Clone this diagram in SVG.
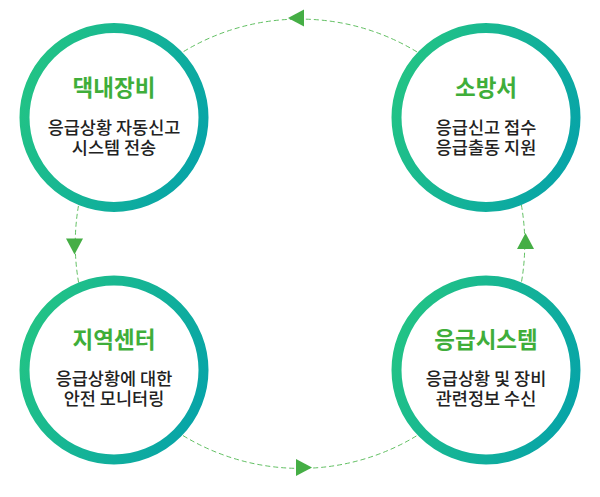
<svg xmlns="http://www.w3.org/2000/svg" width="600" height="497" viewBox="0 0 600 497">
<defs>
<linearGradient id="ring" x1="0" y1="0.3" x2="1" y2="0.7">
<stop offset="0" stop-color="#22c385"/>
<stop offset="1" stop-color="#07a4a8"/>
</linearGradient>
<path id="arrow" d="M8,0 L-8,-8.5 L-8,8.5 Z"/>
</defs>
<style>
.link{fill:none;stroke:#62c063;stroke-width:1;stroke-dasharray:5 3}
.head{fill:#45ae45}
.ring{fill:#fff;stroke:url(#ring);stroke-width:10}
.title{font-family:"Noto Sans CJK KR","Noto Sans",sans-serif;font-weight:700;font-size:22.5px;fill:#3fae3a;text-anchor:middle}
.body{font-family:"Noto Sans CJK KR","Noto Sans",sans-serif;font-weight:500;font-size:17.5px;fill:#222;text-anchor:middle}
</style>
<rect width="600" height="497" fill="#fff"/>
<g id="connectors">
<path class="link" d="M486,117.5 A225,225 0 0,0 114,117.5"/>
<path class="link" d="M114,117.5 A225,225 0 0,0 114,370"/>
<path class="link" d="M114,370 A225,225 0 0,0 486,370"/>
<path class="link" d="M486,370 A225,225 0 0,0 486,117.5"/>
<use href="#arrow" class="head" transform="translate(296,18) rotate(180)"/>
<use href="#arrow" class="head" transform="translate(74.5,246.5) rotate(90)"/>
<use href="#arrow" class="head" transform="translate(304,467.5)"/>
<use href="#arrow" class="head" transform="translate(525.5,241) rotate(-90)"/>
</g>
<g id="node-daeknae">
<circle class="ring" cx="114" cy="117.5" r="89.5"/>
<text class="title" x="114" y="96">댁내장비</text>
<text class="body" x="114" y="134">응급상황 자동신고</text>
<text class="body" x="114" y="154">시스템 전송</text>
</g>
<g id="node-sobangseo">
<circle class="ring" cx="486" cy="117.5" r="89.5"/>
<text class="title" x="486" y="96">소방서</text>
<text class="body" x="486" y="134">응급신고 접수</text>
<text class="body" x="486" y="154">응급출동 지원</text>
</g>
<g id="node-jiyeok">
<circle class="ring" cx="114" cy="370" r="89.5"/>
<text class="title" x="114" y="348">지역센터</text>
<text class="body" x="114" y="385">응급상황에 대한</text>
<text class="body" x="114" y="405">안전 모니터링</text>
</g>
<g id="node-eunggeup">
<circle class="ring" cx="486" cy="370" r="89.5"/>
<text class="title" x="486" y="348">응급시스템</text>
<text class="body" x="486" y="385">응급상황 및 장비</text>
<text class="body" x="486" y="405">관련정보 수신</text>
</g>
</svg>
